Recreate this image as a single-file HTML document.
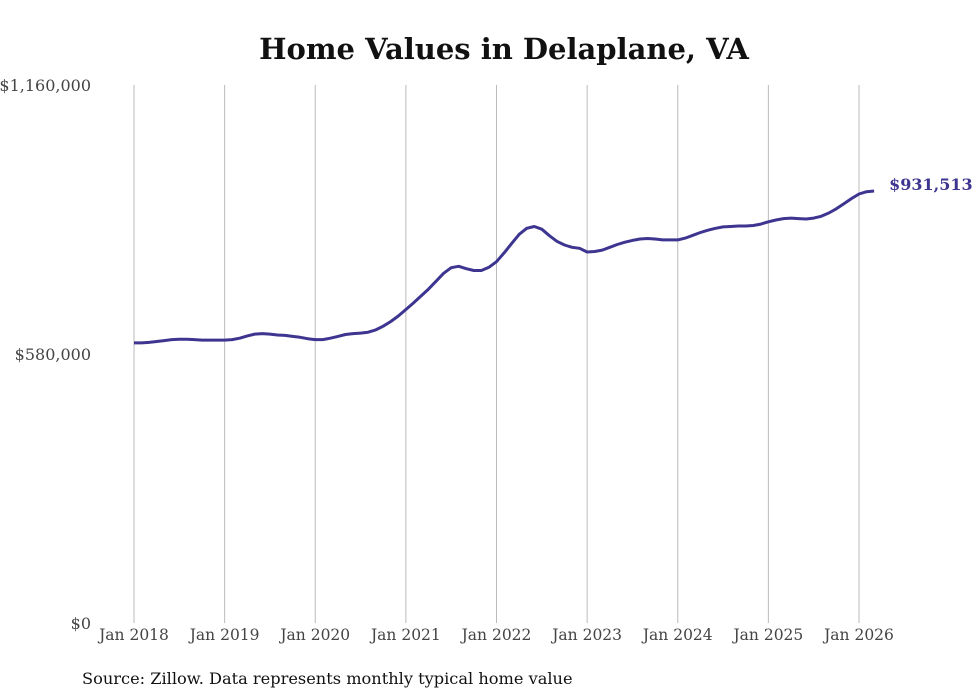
<!DOCTYPE html>
<html><head><meta charset="utf-8">
<style>
body{margin:0;background:#fff;width:980px;height:699px;overflow:hidden;font-family:"DejaVu Serif","Liberation Serif",serif;}
svg{display:block}
</style></head>
<body>
<svg id="chart" width="980" height="699">
<text x="504" y="59" text-anchor="middle" font-size="29" font-weight="bold" fill="#111">Home Values in Delaplane, VA</text>
<g id="grid"></g><g id="yaxis"></g><g id="xaxis"></g>
<path id="line" fill="none" stroke="#3d3590" stroke-width="3" stroke-linejoin="round"/>
<text id="endlabel" font-size="16" font-weight="bold" fill="#3d3590"></text>
<text x="82" y="684" font-size="16.2" fill="#111">Source: Zillow. Data represents monthly typical home value</text>
</svg>
<script>
const yearLabels=["Jan 2018","Jan 2019","Jan 2020","Jan 2021","Jan 2022","Jan 2023","Jan 2024","Jan 2025","Jan 2026"];
const yTicks=[0,580000,1160000];
const yTickLabels=["$0","$580,000","$1,160,000"];
const values=[604,604,605,607,609,611,612,612,611,610,610,610,
610,611,614,619,623,624,623,621,620,618,616,613,
611,611,614,618,622,624,625,627,632,640,650,662,
676,690,705,720,737,754,766,769,764,760,760,767,
779,798,818,838,851,855,849,835,823,815,810,808,
800,801,804,810,816,821,825,828,829,828,826,826,
826,830,836,842,847,851,854,855,856,856,857,860,
865,869,872,873,872,871,873,877,884,893,904,915,
925,930,931.513].map(v=>v*1000);
const endLabel="$931,513";
const NS="http://www.w3.org/2000/svg";
const x=m=>134+m*(725/96);
const y=v=>623-v*(538/1160000);
const grid=document.getElementById('grid'),xa=document.getElementById('xaxis'),ya=document.getElementById('yaxis');
yearLabels.forEach((l,i)=>{
 const gx=x(i*12);
 const ln=document.createElementNS(NS,'line');
 
 
 ln.setAttribute('x1',gx);ln.setAttribute('x2',gx);ln.setAttribute('y1',85);ln.setAttribute('y2',623);
 ln.setAttribute('stroke','#bbb');ln.setAttribute('stroke-width','1');grid.appendChild(ln);
 const t=document.createElementNS(NS,'text');
 
 
 t.setAttribute('x',gx);t.setAttribute('y',640);t.setAttribute('text-anchor','middle');
 t.setAttribute('font-size','15.5');t.setAttribute('fill','#444');t.textContent=l;xa.appendChild(t);
});
yTicks.forEach((v,i)=>{
 const t=document.createElementNS(NS,'text');
 
 
 t.setAttribute('x',91);t.setAttribute('y',y(v)+6);t.setAttribute('text-anchor','end');
 t.setAttribute('font-size','16');t.setAttribute('fill','#444');t.textContent=yTickLabels[i];ya.appendChild(t);
});
document.getElementById('line').setAttribute('d',values.map((v,i)=>(i?'L':'M')+x(i).toFixed(1)+','+y(v).toFixed(1)).join(''));
const el=document.getElementById('endlabel');
const last=values.length-1;
el.setAttribute('x',x(last)+15);el.setAttribute('y',y(values[last])-1);el.textContent=endLabel;
</script>
</body></html>
